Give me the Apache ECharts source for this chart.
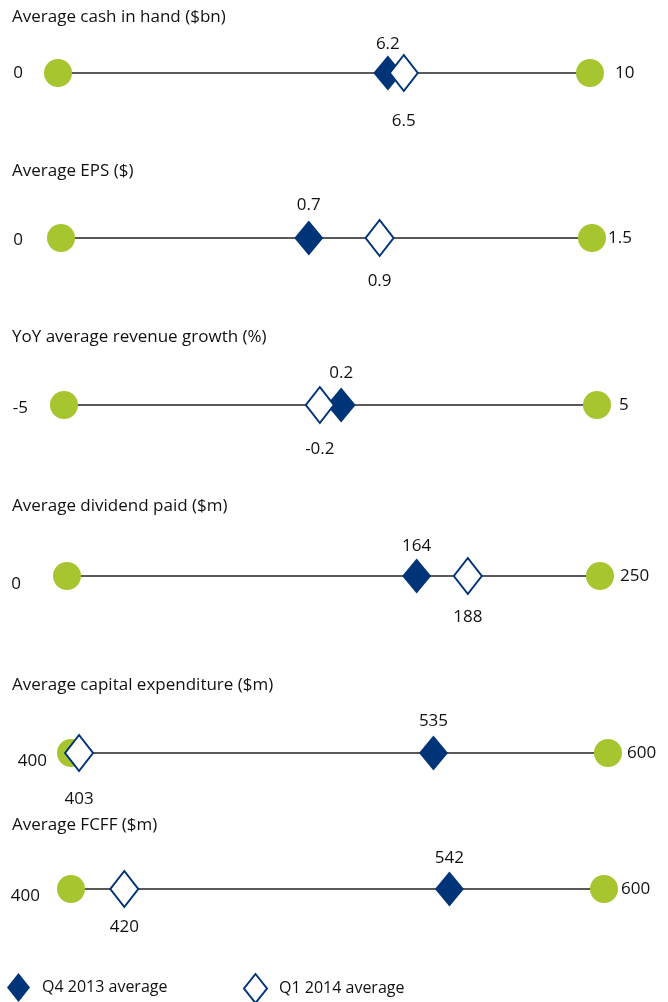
<!DOCTYPE html>
<html>
<head>
<meta charset="utf-8">
<script src="https://cdn.jsdelivr.net/npm/echarts@6/dist/echarts.min.js"></script>
<style>
  html, body { margin: 0; padding: 0; background: #fff; }
  #chart { width: 668px; height: 1002px; }
</style>
</head>
<body>
<div id="chart"></div>
<script>
// panel titles and ranges
const titles = [
  'Average cash in hand ($bn)',
  'Average EPS ($)',
  'YoY average revenue growth (%)',
  'Average dividend paid ($m)',
  'Average capital expenditure ($m)',
  'Average FCFF ($m)'
];
const mins = [0, 0, -5, 0, 400, 400];
const maxs = [10, 1.5, 5, 250, 600, 600];
// Q4 2013 average (filled) / Q1 2014 average (hollow)
const q4 = [6.2, 0.7, 0.2, 164, 535, 542];
const q1 = [6.5, 0.9, -0.2, 188, 403, 420];
const legendNames = ['Q4 2013 average', 'Q1 2014 average'];

// layout per panel (pixels)
const lineY = [73, 238, 405, 576, 753, 889];
const leftX = [58, 61, 64, 67, 71, 71];
const rightX = [590, 592, 597, 600, 608, 604];
const titleY = [18, 172, 338, 507, 686, 826];
const minDist = [21, 24, 22, 32, 10, 17];
const minDrop = [0, 2, 3, 8, 8, 7];
const maxDist = [11, 2, 8, 6, 5, 3];
const topDist = [3, 7, 6, 4, 6, 5];
const botDist = [21, 16, 17, 14, 19, 11];

const NAVY = '#003478';
const GREEN = '#a6c52f';
const TEXT = '#111';
const FONT = 'Open Sans';

const grid = [], xAxis = [], yAxis = [], series = [], title = [];

titles.forEach((t, i) => {
  title.push({
    text: t, left: 12, top: titleY[i] - 9, padding: 0,
    textStyle: { fontFamily: FONT, fontSize: 17, fontWeight: 'normal', color: TEXT }
  });
  grid.push({ left: leftX[i], width: rightX[i] - leftX[i], top: lineY[i] - 20, height: 40 });
  xAxis.push({ type: 'value', gridIndex: i, min: mins[i], max: maxs[i], show: false });
  yAxis.push({ type: 'value', gridIndex: i, min: 0, max: 1, show: false });

  const lbl = { show: true, fontFamily: FONT, fontSize: 17, color: TEXT, formatter: p => p.value[0] };

  series.push({
    type: 'line', xAxisIndex: i, yAxisIndex: i, clip: false, silent: true,
    symbol: 'circle', symbolSize: 28, z: 2,
    itemStyle: { color: GREEN, opacity: 1 },
    lineStyle: { color: '#222', width: 1.3 },
    label: lbl,
    data: [
      { value: [mins[i], 0.5], label: { position: 'left', distance: minDist[i], offset: [0, minDrop[i]] } },
      { value: [maxs[i], 0.5], label: { position: 'right', distance: maxDist[i] } }
    ]
  });
  series.push({
    type: 'scatter', name: legendNames[0], xAxisIndex: i, yAxisIndex: i, clip: false, z: 4,
    symbol: 'diamond', symbolSize: [29, 35],
    itemStyle: { color: NAVY, opacity: 1 },
    label: Object.assign({}, lbl, { position: 'top', distance: topDist[i] }),
    data: [[q4[i], 0.5]]
  });
  series.push({
    type: 'scatter', name: legendNames[1], xAxisIndex: i, yAxisIndex: i, clip: false, z: 5,
    symbol: 'diamond', symbolSize: [28, 36],
    itemStyle: { color: '#fff', borderColor: NAVY, borderWidth: 2, opacity: 1 },
    label: Object.assign({}, lbl, { position: 'bottom', distance: botDist[i] }),
    data: [[q1[i], 0.5]]
  });
});

const legendBase = {
  top: 973, padding: 0, itemWidth: 23, itemHeight: 29, selectedMode: false,
  textStyle: { fontFamily: FONT, fontSize: 16, color: TEXT, padding: [0, 0, 0, 7] }
};

const chart = echarts.init(document.getElementById('chart'));
chart.setOption({
  animation: false,
  title: title,
  grid: grid,
  xAxis: xAxis,
  yAxis: yAxis,
  legend: [
    Object.assign({}, legendBase, { left: 7, data: [{ name: legendNames[0], icon: 'diamond' }] }),
    Object.assign({}, legendBase, { left: 243, data: [{ name: legendNames[1], icon: 'diamond' }] })
  ],
  series: series
});
</script>
</body>
</html>
